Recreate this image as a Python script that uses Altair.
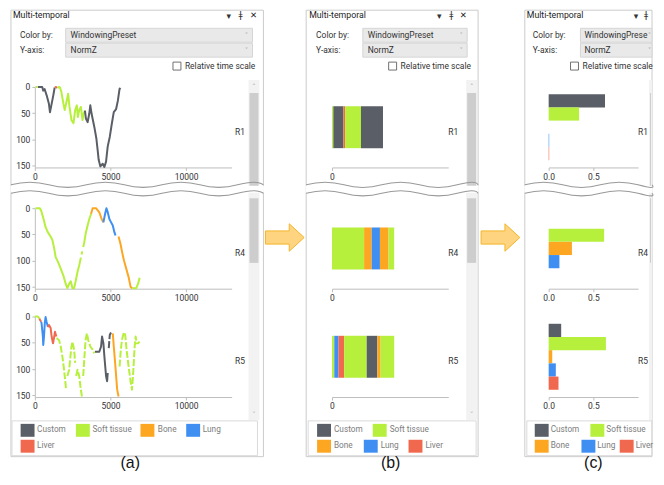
import altair as alt
import pandas as pd

FONT = "Roboto"
SYM_FONT = "DejaVu Sans"
CAPTION_FONT = "Liberation Sans"

# ---------------- data ----------------
PRESETS = ["Custom", "Soft tissue", "Bone", "Lung", "Liver"]
PRESET_COLORS = ["#5a5e66", "#b6ef3c", "#fca622", "#3f8ff3", "#f0694f"]
REGIONS = ["R1", "R4", "R5"]

X_MAX_MS = 13000
Y_MAX = 153
X_TICKS_MS = [0, 5000, 10000]
Y_TICKS = [0, 50, 100, 150]
SHARE_TICKS = [0, 0.5]

# (a) NormZ over time, one piece per colour run
R1_SEG_PRESET = ["Soft tissue", "Custom", "Liver", "Soft tissue", "Custom"]
R1_SEG_MS = [
    [40, 170],
    [200, 490, 555, 645, 780, 930, 1000, 1090, 1220, 1310],
    [1330, 1400, 1490],
    [1510, 1580, 1665, 1755, 1890, 1975, 2085, 2200, 2290, 2420, 2555, 2665, 2775, 2840, 2930, 3040, 3150, 3220, 3310],
    [3310, 3375, 3485, 3595, 3665, 3750, 3930, 4065, 4150, 4220, 4330, 4485, 4595, 4705, 4815, 4950, 5085, 5215, 5370, 5485, 5595, 5660],
]
R1_SEG_VAL = [
    [0, 0],
    [0, 0, 7, 4, 16, 32, 48, 35, 16, 1],
    [1, 0, 2],
    [2, 0, 1, 10, 32, 44, 29, 13, 38, 63, 69, 44, 35, 57, 44, 38, 63, 51, 45],
    [45, 60, 67, 51, 35, 51, 76, 98, 120, 139, 151, 146, 152, 142, 113, 95, 70, 48, 42, 26, 4, 2],
]

R4_SEG_PRESET = ["Soft tissue", "Soft tissue", "Soft tissue", "Bone", "Lung", "Bone", "Soft tissue"]
R4_SEG_MS = [
    [40, 330, 420, 555, 710, 865, 1000, 1155, 1265, 1375, 1530, 1710, 1885, 2040, 2150, 2265, 2375, 2485, 2595, 2710, 2820, 2930, 3040],
    [3085, 3130],
    [3195, 3265, 3375, 3485, 3595, 3710],
    [3710, 3820, 4040, 4260, 4420, 4530],
    [4530, 4640, 4730, 4820, 4930, 5040, 5150, 5260, 5330],
    [5530, 5660, 5770, 5885, 6040, 6195, 6330, 6440],
    [6440, 6700, 6815, 6925],
]
R4_SEG_VAL = [
    [0, 0, 5, 18, 36, 46, 52, 60, 74, 93, 102, 115, 128, 144, 152, 144, 139, 152, 152, 137, 121, 109, 94],
    [88, 82],
    [74, 65, 46, 33, 21, 11],
    [11, 0, 0, 8, 21, 27],
    [27, 11, 0, 8, 21, 27, 33, 46, 52],
    [54, 68, 84, 99, 115, 131, 150, 152],
    [152, 152, 144, 132],
]

R5_SEG_PRESET = ["Soft tissue", "Liver", "Lung", "Liver", "Soft tissue", "Soft tissue",
                 "Soft tissue", "Soft tissue", "Custom", "Custom", "Bone", "Soft tissue"]
R5_SEG_MS = [
    [0, 200, 310],
    [310, 335, 420],
    [420, 445, 490, 530, 555, 600, 665, 710, 775, 865],
    [865, 930, 1045, 1110, 1200, 1265, 1330, 1420],
    [1440, 1600, 1710, 1820, 1930, 2000, 2065],
    [2150, 2265, 2330, 2420, 2485, 2595, 2665],
    [2730, 2820, 2930, 3040, 3110],
    [3195, 3265, 3350, 3440, 3530, 3665, 3820, 3930],
    [3975, 4260, 4375, 4440, 4530, 4595, 4705, 4775, 4815],
    [4885, 4950, 5040],
    [5150, 5215, 5305, 5370, 5440, 5530],
    [5600, 5660, 5750, 5885, 5970, 6060, 6195, 6325, 6415, 6485, 6595, 6660, 6725, 6815, 6925],
]
R5_SEG_VAL = [
    [0, 0, 4],
    [4, 6, 10],
    [10, 13, 26, 38, 54, 40, 10, 1, 10, 20],
    [20, 16, 22, 38, 51, 41, 29, 38],
    [41, 45, 57, 76, 101, 120, 139],
    [113, 101, 82, 57, 48, 63, 88],
    [113, 101, 113, 139, 152],
    [113, 82, 45, 32, 45, 57, 63, 70],
    [67, 67, 57, 38, 51, 76, 113, 123, 107],
    [60, 35, 30],
    [32, 57, 88, 113, 139, 152],
    [95, 70, 45, 30, 35, 63, 95, 123, 139, 113, 57, 38, 51, 51, 48],
]

# (b) duration of each colour run (ms), in time order
R1_RUN_PRESET = ["Soft tissue", "Custom", "Liver", "Soft tissue", "Custom"]
R1_RUN_MS = [150, 1120, 190, 1780, 2460]
R4_RUN_PRESET = ["Soft tissue", "Bone", "Lung", "Bone", "Soft tissue"]
R4_RUN_MS = [3590, 850, 920, 960, 630]
R5_RUN_PRESET = ["Soft tissue", "Lung", "Liver", "Soft tissue", "Custom", "Bone", "Soft tissue"]
R5_RUN_MS = [255, 475, 630, 2520, 1190, 365, 1520]

# (c) share of time per preset (order of PRESETS)
R1_SHARE = [0.63, 0.34, 0.0, 0.006, 0.006]
R4_SHARE = [0.0, 0.62, 0.26, 0.12, 0.0]
R5_SHARE = [0.14, 0.64, 0.04, 0.08, 0.11]

LINE_DATA = {"R1": (R1_SEG_PRESET, R1_SEG_MS, R1_SEG_VAL),
             "R4": (R4_SEG_PRESET, R4_SEG_MS, R4_SEG_VAL),
             "R5": (R5_SEG_PRESET, R5_SEG_MS, R5_SEG_VAL)}
RUN_DATA = {"R1": (R1_RUN_PRESET, R1_RUN_MS),
            "R4": (R4_RUN_PRESET, R4_RUN_MS),
            "R5": (R5_RUN_PRESET, R5_RUN_MS)}
SHARE_DATA = {"R1": R1_SHARE, "R4": R4_SHARE, "R5": R5_SHARE}

# style: pieces drawn broken (sparse samples) in panel (a)
SPARSE_PIECES = {"R1": set(), "R4": set(), "R5": {4, 5, 6, 7, 9, 11}}

# ---------------- layout ----------------
PLOT_W = {"a": 198, "b": 117, "c": 90}
PLOT_H = 81
R4_TOP_PAD = 13
COL_GAP = 101
ROW_GAP = 28

X0 = {"a": 32}
X0["b"] = X0["a"] + PLOT_W["a"] + COL_GAP
X0["c"] = X0["b"] + PLOT_W["b"] + COL_GAP
Y0 = {"R1": 86}
Y0["R4"] = Y0["R1"] + PLOT_H + ROW_GAP
Y0["R5"] = Y0["R4"] + PLOT_H + R4_TOP_PAD + ROW_GAP


def top_pad(region):
    return R4_TOP_PAD if region == "R4" else 0


RIGHT_EDGE = 653
UI = {
    "a": dict(frame=(8, 262), title_x=10, icons=(227, 239, 252), label_x=17, dd=(63, 251),
              dd_text_x=68, dd_text="WindowingPreset", chev_x=245, cb_x=171, scroll=(247, 258),
              rlabel_x=238.5, legend_box=(9, 256),
              legend=[(17.7, 34.3, 0), (73.3, 90, 0), (138.3, 155.7, 0), (184.3, 201, 0), (17.7, 34.3, 1)],
              caption_x=128, caption="(a)", arrow_x=283.5, close=True),
    "b": dict(frame=(305, 478), title_x=308, icons=(439, 451, 463), label_x=315, dd=(362, 467),
              dd_text_x=367, dd_text="WindowingPreset", chev_x=461, cb_x=388, scroll=(466, 477),
              rlabel_x=453, legend_box=(307, 476),
              legend=[(316, 333, 0), (372, 389, 0), (316, 333, 1), (363, 380, 1), (408, 425, 1)],
              caption_x=390, caption="(b)", arrow_x=500.5, close=True),
    "c": dict(frame=(525, RIGHT_EDGE), title_x=527, icons=(637, 647, 656), label_x=533,
              dd=(581, RIGHT_EDGE), dd_text_x=585, dd_text="WindowingPrese", chev_x=650.5, cb_x=571,
              scroll=(RIGHT_EDGE - 3, RIGHT_EDGE), rlabel_x=644, legend_box=(527, RIGHT_EDGE),
              legend=[(535, 551, 0), (591, 607, 0), (535, 551, 1), (582, 598, 1), (620.5, 636.5, 1)],
              caption_x=594, caption="(c)", arrow_x=None, close=False),
}
RLABEL_Y = {"R1": 131, "R4": 253, "R5": 361.5}
FRAME_TOP = 8.8
CAPTION_BASE = 469
ARROW_PATH = "M-1,-0.34 L0.23,-0.34 L0.23,-0.71 L1,0 L0.23,0.71 L0.23,0.34 L-1,0.34 Z"


def wave_path(width, wavelength=76.0, amp=2.6):
    k = 2.0 / width
    half = wavelength / 2 * k
    c = 2 * amp * k
    d = ["M-1,0", f"Q{-1 + half / 2:.4f},{-c:.4f} {-1 + half:.4f},0"]
    x = -1 + half
    while x + half <= 1.0001:
        x += half
        d.append(f"T{x:.4f},0")
    if x < 0.999:
        d.append("T1,0")
    return " ".join(d)


ONE = alt.Data(values=[{"k": 0}])
COLOR = alt.Color("preset:N", scale=alt.Scale(domain=PRESETS, range=PRESET_COLORS), legend=None)


class Place:
    def __init__(self, key, region):
        self.ox = X0[key]
        self.oy = Y0[region]

    def text(self, x, y, s, size=8.5, color="#333333", align="left", font=FONT,
             weight="normal", baseline="middle"):
        return alt.Chart(ONE).mark_text(text=s, align=align, baseline=baseline, font=font,
                                        fontSize=size, fontWeight=weight, color=color).encode(
            x=alt.value(x - self.ox), y=alt.value(y - self.oy))

    def rect(self, x1, y1, x2, y2, fill=None, stroke=None, sw=1.0):
        props = {}
        if fill is None:
            props["fill"] = "#ffffff"
            props["fillOpacity"] = 0
        else:
            props["fill"] = fill
        if stroke is not None:
            props["stroke"] = stroke
            props["strokeWidth"] = sw
        return alt.Chart(ONE).mark_rect(**props).encode(
            x=alt.value(x1 - self.ox), x2=alt.value(x2 - self.ox),
            y=alt.value(y1 - self.oy), y2=alt.value(y2 - self.oy))

    def symbol(self, x, y, path, size, fill=None, stroke="#999999", sw=1.0):
        if fill is None:
            mk = alt.Chart(ONE).mark_point(shape=path, size=size, filled=False, stroke=stroke,
                                           color=stroke, strokeWidth=sw, opacity=1)
        else:
            mk = alt.Chart(ONE).mark_point(shape=path, size=size, filled=True, fill=fill,
                                           color=fill, stroke=stroke, strokeWidth=sw, opacity=1)
        return mk.encode(x=alt.value(x - self.ox), y=alt.value(y - self.oy))


def header_layers(P, ui):
    L, R = ui["frame"]
    s1, s2 = ui["scroll"]
    d1, d2 = ui["dd"]
    out = [
        P.rect(L, FRAME_TOP, R, 458, stroke="#cbcbcb"),
        P.rect(s1, 79, s2, 421, fill="#f2f2f2"),
        P.rect(s1 + 1, 92, s2 - 1, 190, fill="#cdcdcd"),
        P.rect(s1 + 1, 198, s2 - 1, 263, fill="#cdcdcd"),
        P.rect(L - 0.5, 185.5, R + 0.5, 192.5, fill="#ffffff"),
        P.symbol((L + R) / 2, 184.5, wave_path(R - L), (R - L) ** 2, stroke="#9a9a9a", sw=1.1),
        P.symbol((L + R) / 2, 193.0, wave_path(R - L), (R - L) ** 2, stroke="#9a9a9a", sw=1.1),
        P.text(ui["title_x"], 14, "Multi-temporal", size=8.8, color="#222222"),
        P.text(ui["icons"][0], 14.5, "▾", size=9, color="#333333", align="center", font=SYM_FONT),
        P.text(ui["icons"][1], 14, "ǂ", size=9, color="#333333", align="center", font=SYM_FONT),
        P.text(ui["label_x"], 34, "Color by:"),
        P.rect(d1, 27, d2, 41, fill="#e9e9e9", stroke="#d6d6d6"),
        P.text(ui["dd_text_x"], 34, ui["dd_text"]),
        P.text(ui["chev_x"], 34, "˅", size=6, color="#999999", align="center", font=SYM_FONT),
        P.text(ui["label_x"], 49, "Y-axis:"),
        P.rect(d1, 42, d2, 56, fill="#e9e9e9", stroke="#d6d6d6"),
        P.text(ui["dd_text_x"], 49, "NormZ"),
        P.text(ui["chev_x"], 49, "˅", size=6, color="#999999", align="center", font=SYM_FONT),
        P.rect(ui["cb_x"], 61, ui["cb_x"] + 8, 69, fill="#ffffff", stroke="#707070"),
        P.text(ui["cb_x"] + 12, 65, "Relative time scale"),
    ]
    if ui["close"]:
        out.append(P.text(ui["icons"][2], 14, "✕", size=8.5, color="#222222", align="center",
                          font=SYM_FONT, weight="bold"))
        out.append(P.text((s1 + s2) / 2, 86, "˄", size=7, color="#a8a8a8", align="center",
                          font=SYM_FONT))
        out.append(P.text((s1 + s2) / 2, 416, "˅", size=7, color="#a8a8a8", align="center",
                          font=SYM_FONT))
    return out


def footer_layers(P, ui):
    b1, b2 = ui["legend_box"]
    out = [P.rect(b1, 422, b2, 457, stroke="#dadada")]
    for name, color, (sx, tx, row) in zip(PRESETS, PRESET_COLORS, ui["legend"]):
        y = 425 + row * 16
        out.append(P.rect(sx, y, sx + 14, y + 13, fill=color))
        out.append(P.text(tx, y + 6.5, name, size=8.3, color="#7d7d7d"))
    out.append(P.text(ui["caption_x"], CAPTION_BASE, ui["caption"], size=16, color="#111111",
                      align="center", font=CAPTION_FONT, baseline="alphabetic"))
    return out


def y_scale_range(region):
    t = top_pad(region)
    return [t, t + PLOT_H]


def line_layers(region):
    presets, seg_ms, seg_val = LINE_DATA[region]
    rows = []
    for i, (p, ms_list, val_list) in enumerate(zip(presets, seg_ms, seg_val)):
        for t, v in zip(ms_list, val_list):
            rows.append({"seg": i, "preset": p, "ms": t, "normz": v,
                         "sparse": i in SPARSE_PIECES[region]})
    df = pd.DataFrame(rows)
    enc = dict(
        x=alt.X("ms:Q", scale=alt.Scale(domain=[0, X_MAX_MS], nice=False),
                axis=alt.Axis(values=X_TICKS_MS, format="d", title=None, labelFlush=False)),
        y=alt.Y("normz:Q", scale=alt.Scale(domain=[0, Y_MAX], range=y_scale_range(region), nice=False),
                axis=alt.Axis(values=Y_TICKS, title=None, labelFlush=False)),
        color=COLOR, detail="seg:N", order="ms:Q")
    solid = alt.Chart(df).transform_filter("!datum.sparse").mark_line(
        strokeWidth=2, strokeJoin="round").encode(**enc)
    out = [solid]
    if SPARSE_PIECES[region]:
        broken = alt.Chart(df).transform_filter("datum.sparse").mark_line(
            strokeWidth=2, strokeJoin="round", strokeDash=[7, 2]).encode(**enc)
        out.append(broken)
    return out


def run_layers(region):
    presets, durs = RUN_DATA[region]
    df = pd.DataFrame({"region": region, "run": list(range(len(presets))),
                       "preset": presets, "ms": durs})
    return [alt.Chart(df).mark_bar().encode(
        x=alt.X("ms:Q", stack="zero", scale=alt.Scale(domain=[0, X_MAX_MS], nice=False),
                axis=alt.Axis(values=[0], format="d", title=None, labelFlush=False)),
        y=alt.Y("region:N", axis=None,
                scale=alt.Scale(range=y_scale_range(region), paddingInner=0, paddingOuter=0.46)),
        color=COLOR, order=alt.Order("run:Q", sort="ascending"))]


def share_layers(region):
    df = pd.DataFrame({"preset": PRESETS, "share": SHARE_DATA[region]})
    return [alt.Chart(df).mark_bar().encode(
        x=alt.X("share:Q", scale=alt.Scale(domain=[0, 1], nice=False),
                axis=alt.Axis(values=SHARE_TICKS, format=".1f", title=None, labelFlush=False)),
        y=alt.Y("preset:N", axis=None,
                scale=alt.Scale(domain=PRESETS, range=y_scale_range(region),
                                paddingInner=0, paddingOuter=0.55)),
        color=COLOR)]


DATA_LAYERS = {"a": line_layers, "b": run_layers, "c": share_layers}


def view(key, region):
    P = Place(key, region)
    ui = UI[key]
    layers = []
    if region == "R1":
        layers += header_layers(P, ui)
    if region == "R4" and ui["arrow_x"] is not None:
        layers.append(P.symbol(ui["arrow_x"], 237.5, ARROW_PATH, 39 ** 2,
                               fill="#fed480", stroke="#f5b429", sw=1.0))
    if region == "R5":
        layers += footer_layers(P, ui)
    layers.append(P.text(ui["rlabel_x"], RLABEL_Y[region], region, align="center"))
    layers += DATA_LAYERS[key](region)
    return alt.layer(*layers).properties(width=PLOT_W[key], height=PLOT_H + top_pad(region))


views = [view(k, r) for r in REGIONS for k in ["a", "b", "c"]]

chart = alt.concat(*views, columns=3, spacing={"row": ROW_GAP, "column": COL_GAP},
                   bounds="flush").properties(padding=0).configure_view(
    strokeWidth=0).configure_axis(
    labelFont=FONT, labelFontSize=8.5, labelColor="#333333", domainColor="#bdbdbd",
    tickColor="#bdbdbd", tickSize=3, labelPadding=2, grid=False)

chart.save("out.html", embed_options={"renderer": "svg", "actions": False})
